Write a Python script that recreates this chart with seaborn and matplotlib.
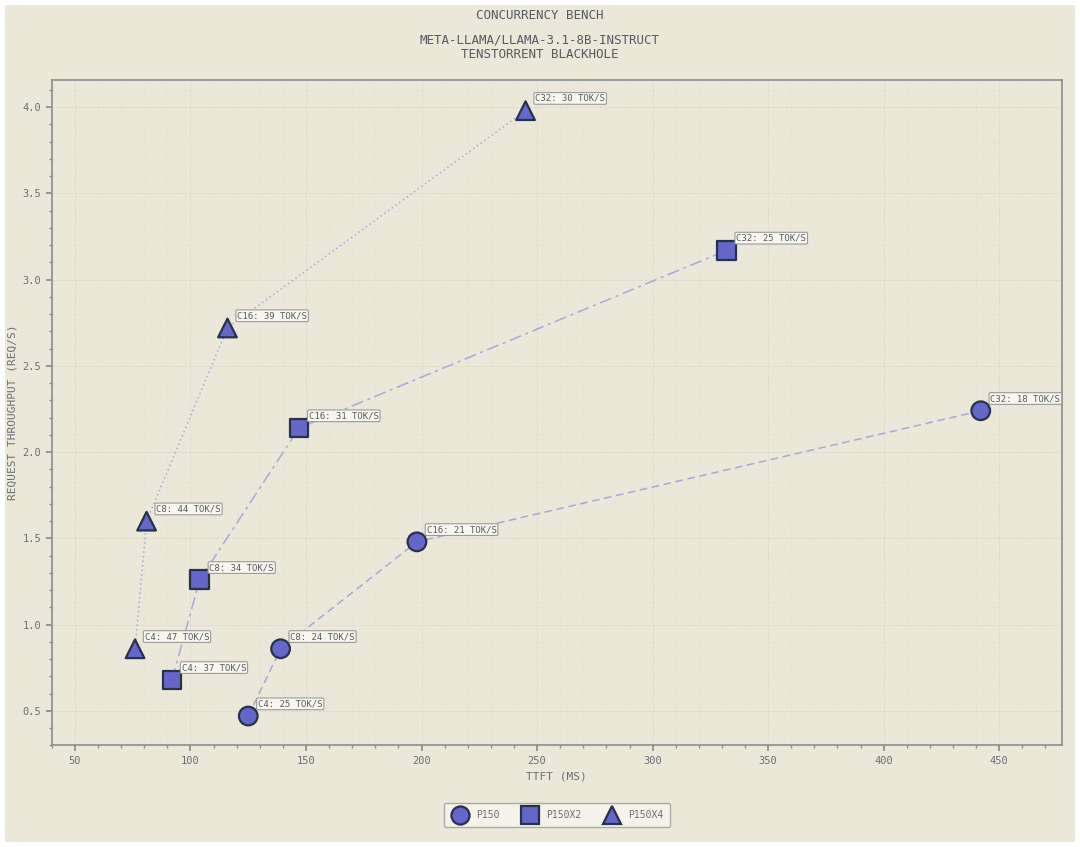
import pandas as pd
import matplotlib.pyplot as plt
import seaborn as sns
from matplotlib.ticker import MultipleLocator

systems = ["P150", "P150X2", "P150X4"]
concurrency = ["C4", "C8", "C16", "C32"]
ttft_p150 = [125, 139, 198, 442]
ttft_p150x2 = [92, 104, 147, 332]
ttft_p150x4 = [76, 81, 116, 245]
rps_p150 = [0.47, 0.86, 1.48, 2.24]
rps_p150x2 = [0.68, 1.26, 2.14, 3.17]
rps_p150x4 = [0.86, 1.60, 2.72, 3.98]
tok_p150 = [25, 24, 21, 18]
tok_p150x2 = [37, 34, 31, 25]
tok_p150x4 = [47, 44, 39, 30]

rows = []
for sys_name, xs, ys, toks in zip(
        systems,
        [ttft_p150, ttft_p150x2, ttft_p150x4],
        [rps_p150, rps_p150x2, rps_p150x4],
        [tok_p150, tok_p150x2, tok_p150x4]):
    for c, x, y, t in zip(concurrency, xs, ys, toks):
        rows.append({"system": sys_name, "conc": c, "ttft": x, "rps": y, "tok": t})
df = pd.DataFrame(rows)

bg = "#ebe8da"
txt = "#6b6f73"
mark_color = "#6466c8"
edge_color = "#27324a"
line_color = "#a8a8d4"

sns.set_theme(style="white")
plt.rcParams['font.family'] = ['DejaVu Sans Mono']

fig = plt.figure(figsize=(10.8, 8.47), dpi=100, facecolor=bg)
fig.patch.set_edgecolor("white")
fig.patch.set_linewidth(6)
ax = fig.add_axes([0.048, 0.12, 0.935, 0.786], facecolor=bg)

line_styles = {"P150": (0, (5, 3)), "P150X2": (0, (8, 3, 2, 3)), "P150X4": (0, (1, 2))}
markers = {"P150": "o", "P150X2": "s", "P150X4": "^"}

for sys_name in systems:
    sub = df[df["system"] == sys_name]
    ax.plot(sub["ttft"], sub["rps"], color=line_color, lw=1.1,
            linestyle=line_styles[sys_name], zorder=2)

sns.scatterplot(data=df, x="ttft", y="rps", style="system", markers=markers,
                style_order=systems, color=mark_color, edgecolor=edge_color,
                linewidth=1.6, s=180, ax=ax, zorder=3, legend=True)

for _, r in df.iterrows():
    ax.annotate(f"{r['conc']}: {r['tok']} TOK/S", (r["ttft"], r["rps"]),
                xytext=(7, 7), textcoords="offset points", fontsize=6.5,
                color="#555a5e",
                bbox=dict(boxstyle="round,pad=0.15", fc="#f8f6ee", ec="#9a9a9a", lw=0.8),
                zorder=4)

ax.set_xlim(40, 477)
ax.set_ylim(0.3, 4.16)
ax.xaxis.set_major_locator(MultipleLocator(50))
ax.xaxis.set_minor_locator(MultipleLocator(10))
ax.yaxis.set_major_locator(MultipleLocator(0.5))
ax.yaxis.set_minor_locator(MultipleLocator(0.1))
ax.yaxis.set_major_formatter(plt.FormatStrFormatter("%.1f"))
ax.grid(which="major", color="#dcd9ca", linestyle="--", lw=0.6)
ax.grid(which="minor", color="#e1ded0", linestyle=":", lw=0.5)
ax.set_axisbelow(True)
ax.tick_params(which="both", direction="out", colors="#8a8d90", labelcolor=txt, labelsize=7.5)
ax.tick_params(which="major", length=4)
ax.tick_params(which="minor", length=2)
ax.tick_params(axis="x", which="both", bottom=True)
ax.tick_params(axis="y", which="both", left=True)
for s in ax.spines.values():
    s.set_color("#8a8d90")
    s.set_linewidth(1.2)

ax.set_xlabel("TTFT (MS)", fontsize=8, color=txt)
ax.set_ylabel("REQUEST THROUGHPUT (REQ/S)", fontsize=8, color=txt)
fig.text(0.5, 0.982, "CONCURRENCY BENCH", ha="center", va="center", fontsize=9, color="#555a5e")
fig.text(0.5, 0.944, "META-LLAMA/LLAMA-3.1-8B-INSTRUCT\nTENSTORRENT BLACKHOLE",
         ha="center", va="center", fontsize=9, color="#555a5e", linespacing=1.1)

handles, labels = ax.get_legend_handles_labels()
for h in handles:
    h.set_markersize(13)
    h.set_markerfacecolor(mark_color)
    h.set_markeredgecolor(edge_color)
    h.set_markeredgewidth(1.6)
leg = ax.legend(handles, labels, loc="upper center", bbox_to_anchor=(0.5, -0.08),
                ncol=3, frameon=True, fontsize=7, facecolor="#f8f6ee",
                edgecolor="#9a9a9a", handletextpad=0.6, columnspacing=2.2,
                borderpad=0.7, fancybox=True)
for t in leg.get_texts():
    t.set_color(txt)

fig.savefig("out.png", dpi=100, facecolor=bg, edgecolor="white")
